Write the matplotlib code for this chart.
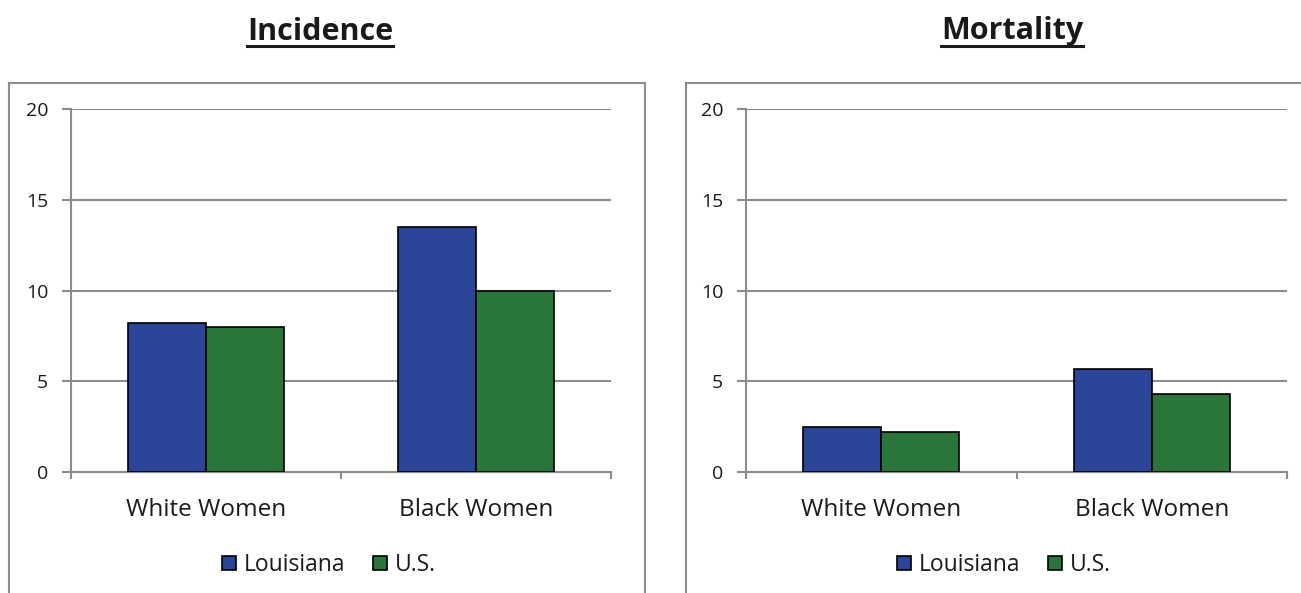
import numpy as np
import matplotlib.pyplot as plt
from matplotlib.patches import Rectangle, Patch
from matplotlib.lines import Line2D

plt.rcParams['font.family'] = ['Open Sans', 'DejaVu Sans']

groups = ["White Women", "Black Women"]
series = ["Louisiana", "U.S."]
incidence_la = [8.2, 13.5]
incidence_us = [8.0, 10.0]
mortality_la = [2.5, 5.7]
mortality_us = [2.2, 4.3]
yticks = [0, 5, 10, 15, 20]

blue = "#2B4599"
green = "#2A753A"
grid_gray = "#8C8C8C"
text_col = "#1a1a1a"

W, H = 1301, 593
fig = plt.figure(figsize=(W / 100, H / 100), dpi=100)


def fx(px):
    return px / W


def fy(py):
    return 1 - py / H


# gray frames around each panel (bottom cut off by the image edge)
fig.patches.append(Rectangle((fx(9), fy(600)), fx(636), fy(83) - fy(600),
                             transform=fig.transFigure, fill=False,
                             edgecolor=grid_gray, linewidth=1.5))
fig.patches.append(Rectangle((fx(686), fy(600)), fx(640), fy(83) - fy(600),
                             transform=fig.transFigure, fill=False,
                             edgecolor=grid_gray, linewidth=1.5))


def panel(left_px, right_px, la, us, title, title_cx, legend_cx):
    ax = fig.add_axes([fx(left_px), fy(472), fx(right_px - left_px), fy(109) - fy(472)])
    x = np.arange(len(groups))
    w = 0.289
    ax.bar(x - w / 2, la, w, color=blue, edgecolor="black", linewidth=1.2, zorder=3)
    ax.bar(x + w / 2, us, w, color=green, edgecolor="black", linewidth=1.2, zorder=3)
    ax.set_xlim(-0.5, len(groups) - 0.5)
    ax.set_ylim(0, 20)
    ax.set_yticks(yticks)
    ax.set_yticklabels([str(v) for v in yticks], fontsize=14)
    ax.yaxis.grid(True, color=grid_gray, linewidth=1.5, zorder=0)
    ax.tick_params(axis="y", length=6.5, width=1.5, color=grid_gray, pad=10,
                   labelcolor=text_col)
    # category labels centred, ticks on category boundaries
    ax.set_xticks(x)
    ax.set_xticklabels(groups, fontsize=17.5, color=text_col)
    ax.tick_params(axis="x", length=0, pad=19)
    ax.set_xticks([-0.5, 0.5, 1.5], minor=True)
    ax.tick_params(axis="x", which="minor", length=5, width=1.5, color=grid_gray)
    for s in ["top", "right"]:
        ax.spines[s].set_visible(False)
    for s in ["left", "bottom"]:
        ax.spines[s].set_color(grid_gray)
        ax.spines[s].set_linewidth(1.5)
    ax.set_axisbelow(True)

    t = fig.text(fx(title_cx), fy(31.5), title, ha="center", va="center",
                 fontsize=22, fontweight="bold", color=text_col)
    fig.canvas.draw()
    bb = t.get_window_extent()
    fig.add_artist(Line2D([bb.x0 / W, bb.x1 / W], [fy(45.5), fy(45.5)],
                          transform=fig.transFigure, color=text_col, linewidth=2.2))

    handles = [Patch(facecolor=blue, edgecolor="black", linewidth=1.2),
               Patch(facecolor=green, edgecolor="black", linewidth=1.2)]
    fig.legend(handles, series, loc="center", bbox_to_anchor=(fx(legend_cx), fy(565)),
               ncol=2, frameon=False, fontsize=16.5, handlelength=0.6,
               handleheight=0.6, handletextpad=0.35, columnspacing=1.2,
               labelcolor=text_col)
    return ax


panel(71, 611, incidence_la, incidence_us, "Incidence", 320, 329)
panel(746, 1287, mortality_la, mortality_us, "Mortality", 1012, 1004)

fig.savefig("out.png", dpi=100)
